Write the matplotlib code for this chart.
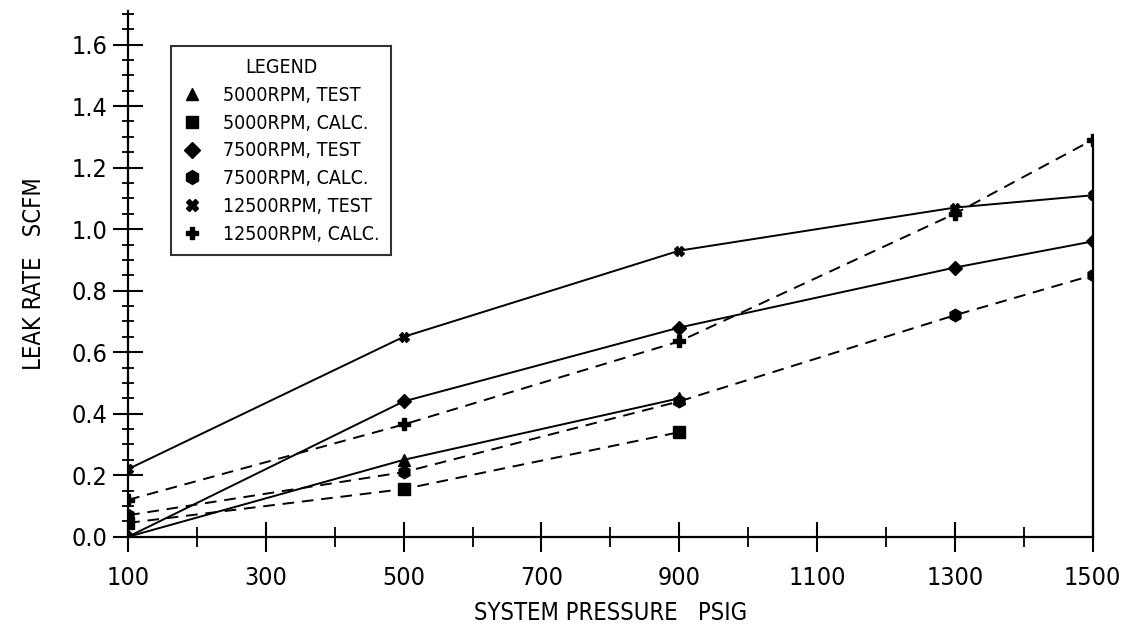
import numpy as np
import matplotlib
matplotlib.use('Agg')
import matplotlib.pyplot as plt
from matplotlib.ticker import MultipleLocator, FixedLocator, FormatStrFormatter
from matplotlib.lines import Line2D

plt.rcParams['font.family'] = ['DejaVu Sans']
plt.rcParams['font.stretch'] = 'condensed'

# Data (pressure psig -> leak rate scfm)
p_5000 = [100, 500, 900]
test_5000 = [0.00, 0.25, 0.45]
calc_5000 = [0.045, 0.155, 0.34]

p_long = [100, 500, 900, 1300, 1500]
test_7500 = [0.00, 0.44, 0.68, 0.875, 0.96]
calc_7500 = [0.07, 0.21, 0.44, 0.72, 0.85]
test_12500 = [0.22, 0.65, 0.93, 1.07, 1.11]
calc_12500 = [0.12, 0.365, 0.635, 1.05, 1.29]

labels = ['5000RPM, TEST', '5000RPM, CALC.', '7500RPM, TEST',
          '7500RPM, CALC.', '12500RPM, TEST', '12500RPM, CALC.']
markers = ['^', 's', 'D', 'h', 'X', 'P']
msizes = [8, 8, 7, 9, 7, 8]

fig = plt.figure(figsize=(11.24, 6.3), dpi=100)
ax = fig.add_axes([0.114, 0.148, 0.858, 0.835])

solid = dict(color='black', lw=1.4, linestyle='-')
dashed = dict(color='black', lw=1.4, linestyle=(0, (6, 4)))

series = [
    (p_5000, test_5000, solid),
    (p_5000, calc_5000, dashed),
    (p_long, test_7500, solid),
    (p_long, calc_7500, dashed),
    (p_long, test_12500, solid),
    (p_long, calc_12500, dashed),
]
for (x, y, style), m, ms in zip(series, markers, msizes):
    ax.plot(x, y, marker=m, markersize=ms, markerfacecolor='black',
            markeredgecolor='black', **style)

ax.set_xlim(100, 1500)
ax.set_ylim(0, 1.71)

ax.spines['top'].set_visible(False)
ax.spines['right'].set_bounds(0, max(calc_12500))
for s in ['left', 'bottom', 'right']:
    ax.spines[s].set_linewidth(1.6)

ax.xaxis.set_major_locator(FixedLocator([100, 300, 500, 700, 900, 1100, 1300, 1500]))
ax.xaxis.set_minor_locator(FixedLocator([200, 400, 600, 800, 1000, 1200, 1400]))
ax.yaxis.set_major_locator(MultipleLocator(0.2))
ax.yaxis.set_minor_locator(MultipleLocator(0.05))
ax.yaxis.set_major_formatter(FormatStrFormatter('%.1f'))

ax.tick_params(axis='x', which='major', direction='inout', length=22, width=1.5,
               labelsize=18, pad=10)
ax.tick_params(axis='x', which='minor', direction='inout', length=14, width=1.3)
ax.tick_params(axis='y', which='major', direction='inout', length=22, width=1.5,
               labelsize=18, pad=4)
ax.tick_params(axis='y', which='minor', direction='inout', length=9, width=1.3)
ax.tick_params(right=False, top=False, which='both')

ax.set_xlabel('SYSTEM PRESSURE   PSIG', fontsize=17, labelpad=8)
ax.set_ylabel('LEAK RATE   SCFM', fontsize=17, labelpad=18)

handles = [Line2D([], [], linestyle='none', marker=m, markersize=ms + 1,
                  color='black') for m, ms in zip(markers, msizes)]
leg = ax.legend(handles, labels, title='LEGEND', loc='upper left',
                bbox_to_anchor=(0.044, 0.932), frameon=True, fancybox=False,
                edgecolor='black', fontsize=14, title_fontsize=14,
                handlelength=1.0, handletextpad=1.1, labelspacing=0.45,
                borderpad=0.6, borderaxespad=0)
leg.get_frame().set_linewidth(1.5)

fig.savefig('out.png', dpi=100)
